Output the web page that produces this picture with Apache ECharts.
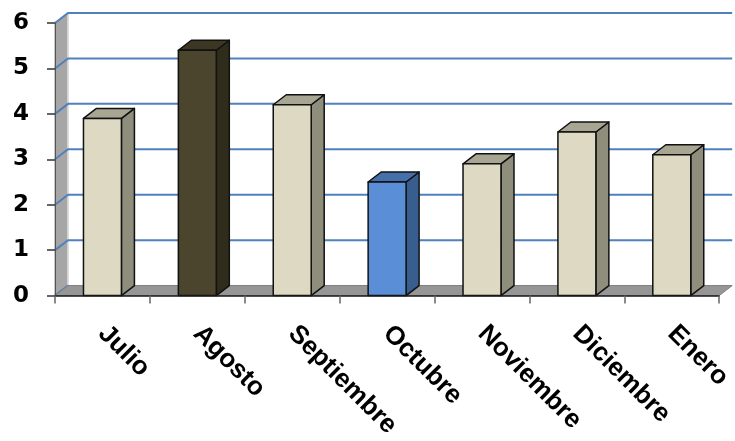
<!DOCTYPE html>
<html>
<head>
<meta charset="utf-8">
<script src="https://cdn.jsdelivr.net/npm/echarts@6/dist/echarts.min.js"></script>
<style>
  html, body { margin: 0; padding: 0; background: #ffffff; }
  #chart { width: 735px; height: 441px; }
</style>
</head>
<body>
<div id="chart"></div>
<script>
// Monthly values
const categories = ['Julio', 'Agosto', 'Septiembre', 'Octubre', 'Noviembre', 'Diciembre', 'Enero'];
const values = [3.9, 5.4, 4.2, 2.5, 2.9, 3.6, 3.1];
const yTicks = [0, 1, 2, 3, 4, 5, 6];
const barTone = ['beige', 'dark', 'beige', 'blue', 'beige', 'beige', 'beige'];

// Shading for the three visible faces of each column
const tones = {
  beige: { front: '#ddd9c3', top: '#a8a692', side: '#8f8d7c' },
  dark:  { front: '#4a452c', top: '#3b3722', side: '#2f2c1b' },
  blue:  { front: '#5a8ed6', top: '#4570aa', side: '#375e8f' }
};

// Perspective offset of the depth axis (pixels)
const DX = 13, DY = 10;

const chart = echarts.init(document.getElementById('chart'), null, { renderer: 'canvas' });

function renderWalls(params, api) {
  const cs = params.coordSys;
  const x0 = cs.x, x1 = cs.x + cs.width;
  const y0 = api.coord([0, yTicks[0]])[1];
  const yTop = api.coord([0, yTicks[yTicks.length - 1]])[1];
  const children = [];
  // left side wall
  children.push({
    type: 'polygon',
    shape: { points: [[x0, yTop], [x0 + DX, yTop - DY], [x0 + DX, y0 - DY], [x0, y0]] },
    style: { fill: '#a6a6a6', stroke: '#8c8c8c', lineWidth: 1 }
  });
  // inner edge of the side wall
  children.push({
    type: 'line',
    shape: { x1: x0 + DX, y1: yTop - DY, x2: x0 + DX, y2: y0 - DY },
    style: { stroke: '#e6e6e6', lineWidth: 1.5 }
  });
  // gridlines on side wall and back wall
  yTicks.forEach(function (v) {
    const y = api.coord([0, v])[1];
    const pts = v === 0
      ? [[x0, y], [x0 + DX, y - DY]]
      : [[x0, y], [x0 + DX, y - DY], [x1 + DX, y - DY]];
    children.push({
      type: 'polyline',
      shape: { points: pts },
      style: { stroke: '#4f81bd', lineWidth: 2, fill: null }
    });
  });
  // floor
  children.push({
    type: 'polygon',
    shape: { points: [[x0, y0], [x0 + DX, y0 - DY], [x1 + DX, y0 - DY], [x1, y0]] },
    style: { fill: '#969696', stroke: '#7f7f7f', lineWidth: 1 }
  });
  return { type: 'group', children: children };
}

function renderBar(params, api) {
  const idx = api.value(0);
  const val = api.value(1);
  const top = api.coord([idx, val]);
  const base = api.coord([idx, 0]);
  const bw = api.size([1, 0])[0] * 0.4;
  const L = top[0] - bw / 2, R = top[0] + bw / 2;
  const T = top[1], B = base[1];
  const c = tones[barTone[params.dataIndex]];
  const edge = { stroke: '#111111', lineWidth: 1.5, lineJoin: 'round' };
  return {
    type: 'group',
    children: [
      { type: 'polygon', shape: { points: [[R, T], [R + DX, T - DY], [R + DX, B - DY], [R, B]] },
        style: Object.assign({ fill: c.side }, edge) },
      { type: 'polygon', shape: { points: [[L, T], [L + DX, T - DY], [R + DX, T - DY], [R, T]] },
        style: Object.assign({ fill: c.top }, edge) },
      { type: 'rect', shape: { x: L, y: T, width: bw, height: B - T },
        style: Object.assign({ fill: c.front }, edge) }
    ]
  };
}

chart.setOption({
  animation: false,
  backgroundColor: '#ffffff',
  grid: { left: 55, right: 13, top: 23, bottom: 144, containLabel: false },
  xAxis: {
    type: 'category',
    data: categories,
    boundaryGap: true,
    axisLine: { show: true, lineStyle: { color: '#1a1a1a', width: 1.5 } },
    axisTick: { show: true, length: 8, alignWithLabel: false, lineStyle: { color: '#666666', width: 1.5 } },
    axisLabel: {
      interval: 0,
      rotate: -45,
      margin: 34,
      fontFamily: 'Liberation Sans, Arial, sans-serif',
      fontWeight: 'bold',
      fontSize: 26,
      color: '#000000'
    },
    splitLine: { show: false },
    z: 5
  },
  yAxis: {
    type: 'value',
    min: 0,
    max: 6,
    interval: 1,
    axisLine: { show: true, lineStyle: { color: '#555555', width: 1 } },
    axisTick: { show: true, length: 8, lineStyle: { color: '#333333', width: 1.5 } },
    axisLabel: {
      margin: 26,
      padding: [7, 0, 0, 0],
      fontFamily: 'DejaVu Sans, sans-serif',
      fontWeight: 'bold',
      fontSize: 23,
      color: '#000000'
    },
    splitLine: { show: false },
    z: 5
  },
  series: [
    {
      type: 'custom',
      name: 'walls',
      clip: false,
      silent: true,
      z: 1,
      renderItem: renderWalls,
      data: [[0, 0]]
    },
    {
      type: 'custom',
      name: 'valores',
      clip: false,
      z: 3,
      renderItem: renderBar,
      encode: { x: 0, y: 1 },
      data: categories.map(function (c, i) { return [i, values[i]]; })
    }
  ]
});
</script>
</body>
</html>
